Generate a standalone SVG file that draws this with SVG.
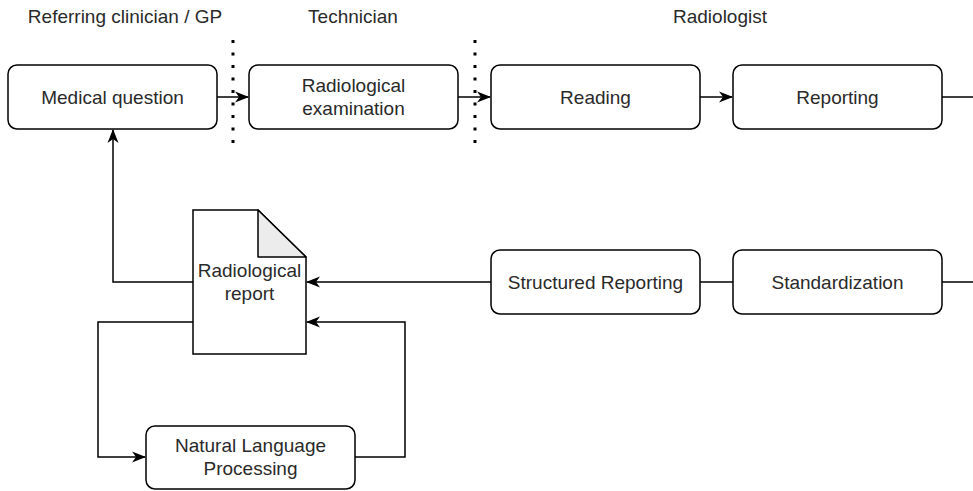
<svg xmlns="http://www.w3.org/2000/svg" width="973" height="491" viewBox="0 0 973 491">
  <style>
    .box { fill: #ffffff; stroke: #000000; stroke-width: 1.5; }
    .lbl { font-family: "Liberation Sans", Arial, sans-serif; font-size: 19px; fill: #2a2a2a; text-anchor: middle; }
    .hdr { font-family: "Liberation Sans", Arial, sans-serif; font-size: 19px; fill: #2a2a2a; text-anchor: middle; }
    .edge { fill: none; stroke: #000000; stroke-width: 1.5; }
    .arrow { marker-end: url(#head); }
    .lane { fill: none; stroke: #000000; stroke-width: 3; stroke-dasharray: 3 9.5; }
  </style>
  <defs>
    <marker id="head" viewBox="0 0 14 12" refX="13" refY="6" markerWidth="14" markerHeight="12" markerUnits="userSpaceOnUse" orient="auto">
      <path d="M0,0.5 L14,6 L0,11.5 L4,6 Z" fill="#000000"/>
    </marker>
  </defs>

  <!-- lane headings -->
  <g id="headers">
    <text class="hdr" x="125" y="23">Referring clinician / GP</text>
    <text class="hdr" x="353" y="23">Technician</text>
    <text class="hdr" x="720" y="23">Radiologist</text>
  </g>

  <!-- lane separators -->
  <g id="separators">
    <line class="lane" x1="233" y1="40" x2="233" y2="146"/>
    <line class="lane" x1="475" y1="40" x2="475" y2="146"/>
  </g>

  <!-- connectors -->
  <g id="connectors">
    <line class="edge arrow" x1="217" y1="97" x2="248" y2="97"/>
    <line class="edge arrow" x1="458" y1="97" x2="490" y2="97"/>
    <line class="edge arrow" x1="700" y1="97" x2="732" y2="97"/>
    <line class="edge" x1="942" y1="97" x2="973" y2="97"/>
    <line class="edge" x1="942" y1="282" x2="973" y2="282"/>
    <line class="edge" x1="700" y1="282" x2="733" y2="282"/>
    <line class="edge arrow" x1="491" y1="282" x2="307" y2="282"/>
    <polyline class="edge arrow" points="193,282 113,282 113,130"/>
    <polyline class="edge arrow" points="193,322 98,322 98,457 145,457"/>
    <polyline class="edge arrow" points="355,457 405,457 405,322 307,322"/>
  </g>

  <!-- nodes -->
  <g id="medical-question">
    <rect class="box" x="8" y="65" width="209" height="64" rx="9"/>
    <text class="lbl" x="112.5" y="104">Medical question</text>
  </g>
  <g id="radiological-examination">
    <rect class="box" x="249" y="65" width="209" height="64" rx="9"/>
    <text class="lbl" x="353.5" y="92">Radiological</text>
    <text class="lbl" x="353.5" y="115">examination</text>
  </g>
  <g id="reading">
    <rect class="box" x="491" y="65" width="209" height="64" rx="9"/>
    <text class="lbl" x="595.5" y="104">Reading</text>
  </g>
  <g id="reporting">
    <rect class="box" x="733" y="65" width="209" height="64" rx="9"/>
    <text class="lbl" x="837.5" y="104">Reporting</text>
  </g>
  <g id="structured-reporting">
    <rect class="box" x="491" y="250" width="209" height="64" rx="9"/>
    <text class="lbl" x="595.5" y="289">Structured Reporting</text>
  </g>
  <g id="standardization">
    <rect class="box" x="733" y="250" width="209" height="64" rx="9"/>
    <text class="lbl" x="837.5" y="289">Standardization</text>
  </g>
  <g id="radiological-report">
    <path class="box" d="M193,210 L258,210 L306,257 L306,354 L193,354 Z"/>
    <path d="M258,210 L258,257 L306,257 Z" fill="#ececec" stroke="#000000" stroke-width="1.5" stroke-linejoin="round"/>
    <text class="lbl" x="249.5" y="277">Radiological</text>
    <text class="lbl" x="249.5" y="300">report</text>
  </g>
  <g id="nlp">
    <rect class="box" x="146" y="426" width="209" height="63" rx="9"/>
    <text class="lbl" x="250.5" y="452">Natural Language</text>
    <text class="lbl" x="250.5" y="475">Processing</text>
  </g>
</svg>
